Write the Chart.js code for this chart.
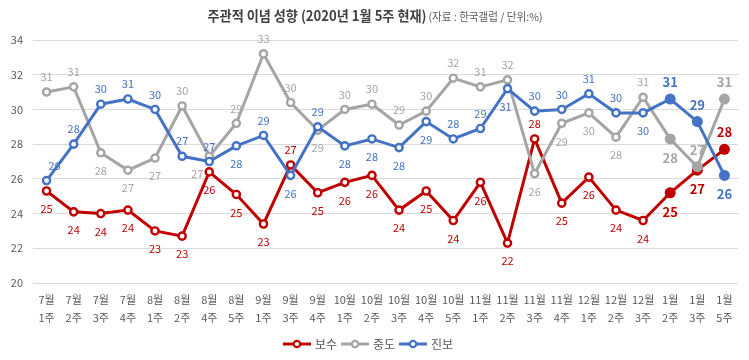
<!DOCTYPE html>
<html><head><meta charset="utf-8">
<script src="https://cdn.jsdelivr.net/npm/chart.js@4"></script>
<style>html,body{margin:0;padding:0;background:#fff}</style>
</head><body>
<canvas id="c" width="749" height="360"></canvas>
<script>
const categories = ['7월 1주','7월 2주','7월 3주','7월 4주','8월 1주','8월 2주','8월 4주','8월 5주','9월 1주','9월 3주','9월 4주','10월 1주','10월 2주','10월 3주','10월 4주','10월 5주','11월 1주','11월 2주','11월 3주','11월 4주','12월 1주','12월 2주','12월 3주','1월 2주','1월 3주','1월 5주'];
const conservative = [25.3,24.1,24.0,24.2,23.0,22.7,26.4,25.1,23.4,26.8,25.2,25.8,26.2,24.2,25.3,23.6,25.8,22.3,28.3,24.6,26.1,24.2,23.6,25.2,26.5,27.7];
const moderate     = [31.0,31.3,27.5,26.5,27.2,30.2,27.3,29.2,33.2,30.4,28.8,30.0,30.3,29.1,29.9,31.8,31.3,31.7,26.3,29.2,29.8,28.4,30.7,28.3,26.7,30.6];
const progressive  = [25.9,28.0,30.3,30.6,30.0,27.3,27.0,27.9,28.5,26.2,29.0,27.9,28.3,27.8,29.3,28.3,28.9,31.2,29.9,30.0,30.9,29.8,29.8,30.6,29.3,26.2];
const seriesNames = ['보수','중도','진보'];
const yTicks = [20,22,24,26,28,30,32,34];

// styling (not data)
const colors = ['#C00000','#A5A5A5','#4472C4'];
const highlightFrom = 23;
const labelAbove = [
  [9,18,25],
  [0,1,5,7,8,9,11,12,13,14,15,16,17,22,24,25],
  [0,1,2,3,4,5,6,8,10,15,16,18,19,20,21,23,24]
];
const labelDx = [{}, {6:-12}, {0:8, 17:-2}];

const FONT = "'Noto Sans CJK KR','Noto Sans',sans-serif";

function legendImg(color){
  const cv = document.createElement('canvas');
  cv.width = 28; cv.height = 10;
  const g = cv.getContext('2d');
  g.strokeStyle = color; g.lineWidth = 3;
  g.beginPath(); g.moveTo(0,5); g.lineTo(28,5); g.stroke();
  g.fillStyle = '#fff'; g.lineWidth = 2.2;
  g.beginPath(); g.arc(14,5,3.2,0,Math.PI*2); g.fill(); g.stroke();
  return cv;
}

function makeDataset(name, data, color, order){
  return {
    label: name, data, borderColor: color, borderWidth: 3, order,
    pointRadius: data.map((v,i)=> i>=highlightFrom ? 5.5 : 3.6),
    pointBorderWidth: data.map((v,i)=> i>=highlightFrom ? 0 : 2.4),
    pointBackgroundColor: data.map((v,i)=> i>=highlightFrom ? color : '#fff'),
    pointBorderColor: color,
    pointHoverRadius: 5,
    tension: 0, fill: false
  };
}

const titlePlugin = {
  id: 'titleDraw',
  afterDraw(chart){
    const ctx = chart.ctx;
    ctx.save();
    const main = '주관적 이념 성향 (2020년 1월 5주 현재)';
    const sub = '(자료 : 한국갤럽 / 단위:%)';
    ctx.font = "bold 14px " + FONT;
    const mw = ctx.measureText(main).width;
    ctx.font = "11px " + FONT;
    const sw = ctx.measureText(sub).width;
    const mTarget = 219, sTarget = 114;
    const mScale = mTarget/mw, sScale = sTarget/sw;
    const total = mTarget + 2 + sTarget;
    let x = 375 - total/2;
    ctx.textBaseline = 'middle';
    ctx.fillStyle = '#404040';
    ctx.font = "bold 14px " + FONT;
    ctx.save(); ctx.translate(x, 16); ctx.scale(mScale,1); ctx.fillText(main,0,0); ctx.restore();
    x += mTarget + 2;
    ctx.fillStyle = '#595959';
    ctx.font = "11px " + FONT;
    ctx.save(); ctx.translate(x, 17); ctx.scale(sScale,1); ctx.fillText(sub,0,0); ctx.restore();
    ctx.restore();
  }
};

const labelPlugin = {
  id: 'valueLabels',
  afterDatasetsDraw(chart){
    const ctx = chart.ctx;
    ctx.save();
    ctx.textAlign = 'center'; ctx.textBaseline = 'middle';
    chart.data.datasets.forEach((ds, di) => {
      const meta = chart.getDatasetMeta(di);
      meta.data.forEach((pt, i) => {
        const hi = i >= highlightFrom;
        ctx.font = (hi ? 'bold 13px ' : '11px ') + FONT;
        ctx.fillStyle = colors[di];
        const above = labelAbove[di].includes(i);
        const dy = above ? (hi ? -17 : -15) : (hi ? 19 : 18);
        const dx = labelDx[di][i] || 0;
        ctx.fillText(String(Math.round(ds.data[i])), pt.x + dx, pt.y + dy);
      });
    });
    ctx.restore();
  }
};

const bgPlugin = {
  id: 'bg',
  beforeDraw(chart){ const c=chart.ctx; c.save(); c.fillStyle='#fff'; c.fillRect(0,0,chart.width,chart.height); c.restore(); }
};

new Chart(document.getElementById('c'), {
  type: 'line',
  data: {
    labels: categories.map(s => s.split(' ')),
    datasets: [
      makeDataset(seriesNames[0], conservative, colors[0], 3),
      makeDataset(seriesNames[1], moderate, colors[1], 2),
      makeDataset(seriesNames[2], progressive, colors[2], 1)
    ]
  },
  options: {
    responsive: false, animation: false,
    layout: { padding: { top: 40, right: 11, left: 0, bottom: 0 } },
    scales: {
      x: {
        offset: true,
        grid: { display: false, drawTicks: false },
        border: { display: false },
        ticks: { color: '#595959', font: { family: FONT, size: 11, lineHeight: 1.6 }, maxRotation: 0, autoSkip: false, padding: 8 },
        afterFit(s){ s.height = 49; }
      },
      y: {
        min: 20, max: 34,
        afterBuildTicks(s){ s.ticks = yTicks.map(v => ({value: v})); },
        grid: { color: '#D9D9D9', lineWidth: 1, drawTicks: false },
        border: { display: false },
        ticks: { color: '#595959', font: { family: FONT, size: 11 }, padding: 10 },
        afterFit(s){ s.width = 33; }
      }
    },
    plugins: {
      tooltip: { enabled: false },
      legend: {
        position: 'bottom',
        labels: {
          usePointStyle: true, pointStyleWidth: 24, padding: 6,
          color: '#595959', font: { family: FONT, size: 12 },
          generateLabels(chart){
            return seriesNames.map((n, i) => ({
              text: n, pointStyle: legendImg(colors[i]), fillStyle: colors[i], strokeStyle: colors[i],
              lineWidth: 0, hidden: false, datasetIndex: i, fontColor: '#595959'
            }));
          }
        }
      }
    }
  },
  plugins: [bgPlugin, titlePlugin, labelPlugin]
});
</script>
</body></html>
